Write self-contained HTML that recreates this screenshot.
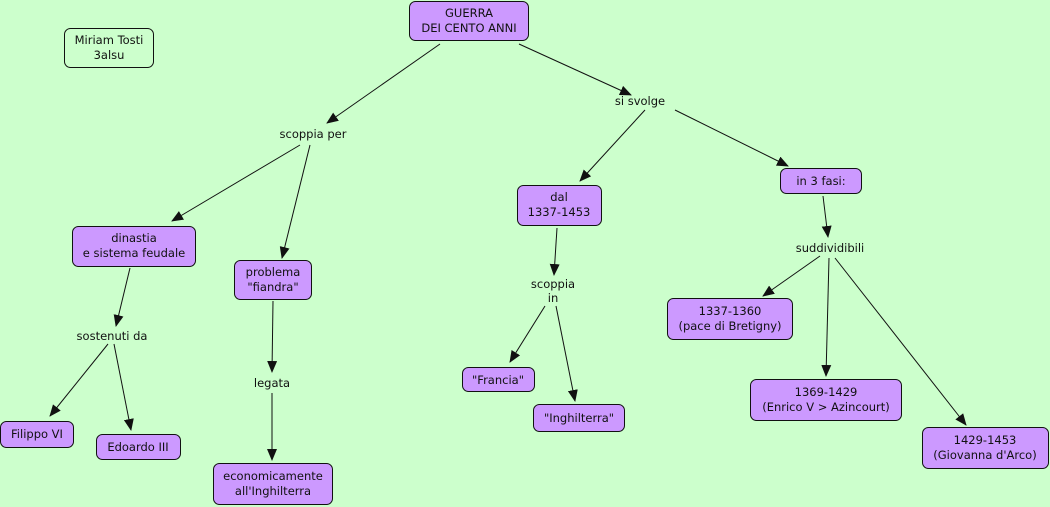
<!DOCTYPE html>
<html><head><meta charset="utf-8"><style>
html,body{margin:0;padding:0;background:#ccffcc;}
svg{display:block;}
text{font-family:"DejaVu Sans","Liberation Sans",sans-serif;font-size:11.5px;fill:#111;text-anchor:middle;}
.n{fill:#cc99ff;stroke:#111;stroke-width:1;}
.m{fill:#ccffcc;stroke:#111;stroke-width:1;}
line{stroke:#111;stroke-width:1;}
</style></head><body>
<svg width="1050" height="507" viewBox="0 0 1050 507" xmlns="http://www.w3.org/2000/svg">
<defs><marker id="a" viewBox="0 0 12 10" refX="11" refY="5" markerWidth="12" markerHeight="10" markerUnits="userSpaceOnUse" orient="auto"><path d="M0,0 L12,5 L0,10 z" fill="#111"/></marker></defs>
<g marker-end="url(#a)">
<line x1="440" y1="44" x2="327" y2="123"/>
<line x1="519" y1="44" x2="631" y2="95"/>
<line x1="300" y1="145" x2="172" y2="221"/>
<line x1="310" y1="145" x2="282" y2="258"/>
<line x1="130" y1="268" x2="116" y2="326"/>
<line x1="108" y1="344" x2="50" y2="416"/>
<line x1="114" y1="344" x2="131" y2="430"/>
<line x1="273" y1="301" x2="272" y2="372"/>
<line x1="272" y1="393" x2="272" y2="460"/>
<line x1="645" y1="110" x2="580" y2="181"/>
<line x1="675" y1="110" x2="788" y2="166"/>
<line x1="557" y1="228" x2="554" y2="275"/>
<line x1="545" y1="306" x2="510" y2="362"/>
<line x1="556" y1="306" x2="575" y2="401"/>
<line x1="823" y1="196" x2="828" y2="237"/>
<line x1="820" y1="256" x2="763" y2="296"/>
<line x1="829" y1="258" x2="826" y2="376"/>
<line x1="835" y1="258" x2="966" y2="425"/>
</g>
<rect class="n" x="409.5" y="1.5" width="119" height="39" rx="6"/>
<text x="469" y="17">GUERRA</text><text x="469" y="32">DEI CENTO ANNI</text>
<rect class="m" x="64.5" y="28.5" width="89" height="39" rx="6"/>
<text x="109" y="44">Miriam Tosti</text><text x="109" y="59">3alsu</text>
<rect class="n" x="72.5" y="226.5" width="123" height="40" rx="6"/>
<text x="134" y="242">dinastia</text><text x="134" y="257">e sistema feudale</text>
<rect class="n" x="234.5" y="260.5" width="77" height="39" rx="6"/>
<text x="273" y="276">problema</text><text x="273" y="291">"fiandra"</text>
<rect class="n" x="0.5" y="421.5" width="73" height="26" rx="6"/>
<text x="37" y="438">Filippo VI</text>
<rect class="n" x="96.5" y="434.5" width="84" height="25" rx="6"/>
<text x="138" y="451">Edoardo III</text>
<rect class="n" x="213.5" y="463.5" width="119" height="41" rx="6"/>
<text x="273" y="480">economicamente</text><text x="273" y="495">all'Inghilterra</text>
<rect class="n" x="517.5" y="185.5" width="84" height="40" rx="6"/>
<text x="559" y="201">dal</text><text x="559" y="216">1337-1453</text>
<rect class="n" x="780.5" y="168.5" width="81" height="25" rx="6"/>
<text x="821" y="185">in 3 fasi:</text>
<rect class="n" x="462.5" y="367.5" width="72" height="24" rx="6"/>
<text x="498" y="384">"Francia"</text>
<rect class="n" x="533.5" y="404.5" width="91" height="27" rx="6"/>
<text x="579" y="422">"Inghilterra"</text>
<rect class="n" x="667.5" y="298.5" width="125" height="41" rx="6"/>
<text x="730" y="315">1337-1360</text><text x="730" y="330">(pace di Bretigny)</text>
<rect class="n" x="750.5" y="379.5" width="151" height="41" rx="6"/>
<text x="826" y="396">1369-1429</text><text x="826" y="411">(Enrico V &gt; Azincourt)</text>
<rect class="n" x="922.5" y="427.5" width="126" height="41" rx="6"/>
<text x="985" y="444">1429-1453</text><text x="985" y="459">(Giovanna d'Arco)</text>
<text x="313" y="138">scoppia per</text>
<text x="640" y="105">si svolge</text>
<text x="112" y="340">sostenuti da</text>
<text x="272" y="387">legata</text>
<text x="553" y="288">scoppia</text><text x="553" y="302">in</text>
<text x="830" y="252">suddividibili</text>
</svg>
</body></html>
